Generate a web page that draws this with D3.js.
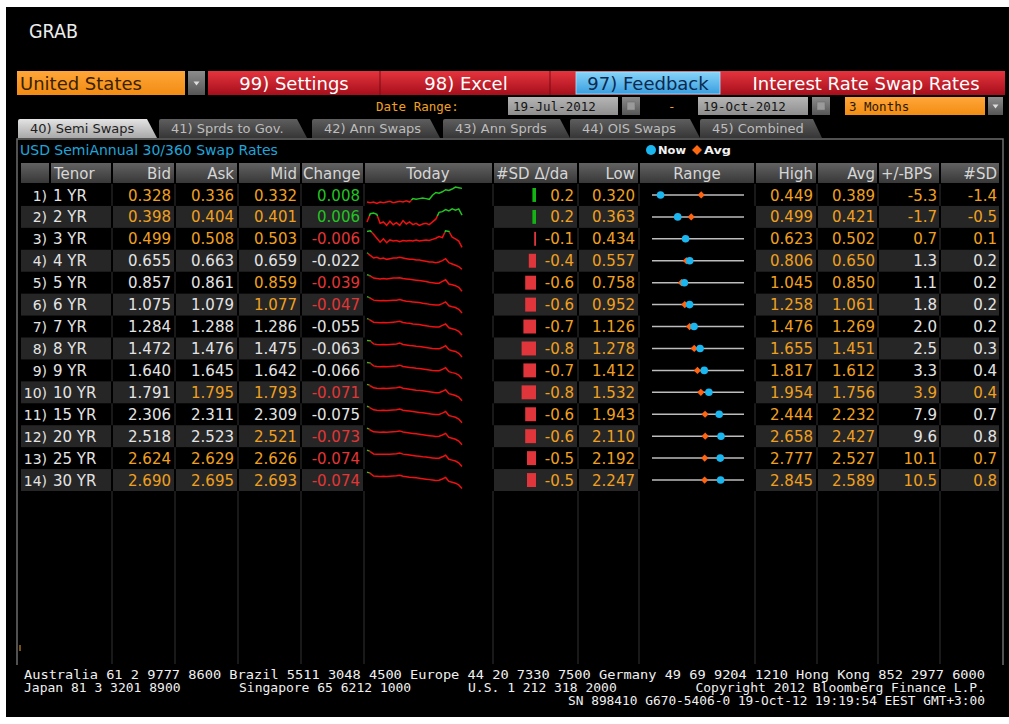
<!DOCTYPE html>
<html>
<head>
<meta charset="utf-8">
<script src="https://cdn.jsdelivr.net/npm/d3@7"></script>
<style>
  body { margin: 0; background: #fff; }
  svg { display: block; }
  text { font-family: "DejaVu Sans", sans-serif; }
  .mono { font-family: "DejaVu Sans Mono", monospace; }
</style>
</head>
<body>
<div id="screen"></div>
<script>
// ---- table values ----
var tenors = ["1 YR","2 YR","3 YR","4 YR","5 YR","6 YR","7 YR","8 YR","9 YR","10 YR","15 YR","20 YR","25 YR","30 YR"];
var bid    = [0.328,0.398,0.499,0.655,0.857,1.075,1.284,1.472,1.640,1.791,2.306,2.518,2.624,2.690];
var ask    = [0.336,0.404,0.508,0.663,0.861,1.079,1.288,1.476,1.645,1.795,2.311,2.523,2.629,2.695];
var mid    = [0.332,0.401,0.503,0.659,0.859,1.077,1.286,1.475,1.642,1.793,2.309,2.521,2.626,2.693];
var change = [0.008,0.006,-0.006,-0.022,-0.039,-0.047,-0.055,-0.063,-0.066,-0.071,-0.075,-0.073,-0.074,-0.074];
var sdPerDay = [0.2,0.2,-0.1,-0.4,-0.6,-0.6,-0.7,-0.8,-0.7,-0.8,-0.6,-0.6,-0.5,-0.5];
var low    = [0.320,0.363,0.434,0.557,0.758,0.952,1.126,1.278,1.412,1.532,1.943,2.110,2.192,2.247];
var high   = [0.449,0.499,0.623,0.806,1.045,1.258,1.476,1.655,1.817,1.954,2.444,2.658,2.777,2.845];
var avg    = [0.389,0.421,0.502,0.650,0.850,1.061,1.269,1.451,1.612,1.756,2.232,2.427,2.527,2.589];
var bps    = [-5.3,-1.7,0.7,1.3,1.1,1.8,2.0,2.5,3.3,3.9,7.9,9.6,10.1,10.5];
var sdev   = [-1.4,-0.5,0.1,0.2,0.2,0.2,0.2,0.3,0.4,0.4,0.7,0.8,0.7,0.8];

// which cells are flagged (o) or plain (w): bid ask mid chg sd/da low high avg bps sd
var flags = ["oooooooooo","oooooooooo","oooooooooo","wwwwooooww","wwooooooww","wwooooooww","wwwwooooww",
             "wwwwooooww","wwwwooooww","wooooooooo","wwwwooooww","wwooooooww","oooooooooo","oooooooooo"];

// intraday moves (bp vs previous close) for the "Today" sparklines
var today = [
  [-0.2,-0.25,-0.2,-0.3,-0.2,-0.25,-0.2,-0.15,-0.25,-0.2,-0.15,-0.2,-0.1,-0.2,0.05,0.0,0.05,0.1,0.05,0.0,0.3,0.5,0.45,0.55,0.7,0.65,0.75,0.9,0.85,0.8],
  [-1.0,0.2,0.3,0.1,-1.2,-1.0,-1.5,-0.9,-1.4,-1.1,-1.5,-0.8,-1.3,-1.0,-1.4,-1.2,-1.5,-1.3,-1.2,-1.4,-1.0,-0.6,0.4,0.5,0.8,0.6,0.9,0.7,0.9,0.0],
  [0,0.1,-0.5,-1.2,-1.9,-1.3,-2.0,-1.5,-1.7,-1.6,-1.8,-1.6,-1.7,-1.6,-1.7,-1.5,-1.7,-1.6,-1.5,-1.6,-1.4,-1.2,-0.9,-1.1,0.1,0.0,-1.0,-1.3,-1.7,-2.8],
  [0,-0.4,-0.8,-0.7,-0.9,-0.8,-1.0,-0.9,-0.8,-0.8,-0.7,-0.8,-0.9,-1.0,-1.0,-1.1,-1.1,-1.2,-1.3,-1.4,-1.4,-1.5,-1.4,-1.2,-0.9,-1.5,-1.7,-1.9,-2.1,-2.5],
  [0,-0.3,-0.8,-0.9,-1.0,-0.9,-1.0,-0.9,-0.8,-0.8,-0.7,-0.9,-1.0,-1.1,-1.2,-1.3,-1.4,-1.5,-1.6,-1.8,-1.9,-2.0,-2.0,-1.6,-1.2,-2.2,-2.4,-2.6,-3.0,-3.9],
  [0,-0.4,-1.0,-1.1,-1.2,-1.1,-1.2,-1.1,-1.0,-1.0,-0.8,-1.1,-1.3,-1.4,-1.5,-1.6,-1.7,-1.9,-2.0,-2.2,-2.3,-2.4,-2.4,-2.0,-1.5,-2.6,-2.9,-3.1,-3.6,-4.7],
  [0,-0.5,-1.2,-1.3,-1.4,-1.3,-1.4,-1.3,-1.2,-1.1,-0.9,-1.3,-1.5,-1.6,-1.8,-1.9,-2.0,-2.2,-2.4,-2.6,-2.7,-2.8,-2.8,-2.3,-1.8,-3.1,-3.4,-3.7,-4.3,-5.5],
  [0,-0.2,-1.3,-1.5,-1.6,-1.5,-1.6,-1.5,-1.4,-1.3,-1.0,-1.5,-1.7,-1.9,-2.0,-2.2,-2.3,-2.5,-2.7,-2.9,-3.1,-3.2,-3.2,-2.7,-2.0,-3.5,-3.9,-4.2,-4.9,-6.3],
  [0,-0.3,-1.4,-1.6,-1.7,-1.6,-1.7,-1.6,-1.5,-1.4,-1.1,-1.6,-1.8,-2.0,-2.1,-2.3,-2.4,-2.6,-2.8,-3.0,-3.2,-3.3,-3.3,-2.8,-2.1,-3.7,-4.1,-4.4,-5.1,-6.6],
  [0,-0.6,-1.5,-1.7,-1.8,-1.7,-1.8,-1.7,-1.6,-1.5,-1.2,-1.7,-1.9,-2.1,-2.3,-2.5,-2.6,-2.8,-3.0,-3.2,-3.4,-3.6,-3.6,-3.0,-2.3,-4.0,-4.4,-4.8,-5.5,-7.1],
  [0,-0.7,-1.6,-1.8,-1.9,-1.8,-1.9,-1.8,-1.7,-1.6,-1.3,-1.8,-2.0,-2.2,-2.4,-2.6,-2.8,-3.0,-3.2,-3.4,-3.6,-3.8,-3.7,-3.1,-2.4,-4.2,-4.6,-5.0,-5.8,-7.5],
  [0,-0.8,-1.6,-1.7,-1.8,-1.7,-1.8,-1.7,-1.6,-1.5,-1.2,-1.7,-1.9,-2.1,-2.3,-2.5,-2.7,-2.9,-3.1,-3.3,-3.5,-3.7,-3.6,-3.0,-2.3,-4.1,-4.5,-4.9,-5.7,-7.3],
  [0,-0.7,-1.7,-1.8,-1.9,-1.8,-1.9,-1.8,-1.7,-1.6,-1.3,-1.8,-2.0,-2.2,-2.4,-2.6,-2.8,-3.0,-3.1,-3.3,-3.5,-3.7,-3.6,-3.0,-2.3,-4.1,-4.5,-4.9,-5.7,-7.4],
  [0,-0.6,-1.8,-1.9,-2.0,-1.9,-2.0,-1.9,-1.8,-1.7,-1.4,-1.9,-2.1,-2.3,-2.4,-2.6,-2.8,-3.0,-3.2,-3.4,-3.6,-3.8,-3.7,-3.1,-2.4,-4.2,-4.6,-5.0,-5.8,-7.4]
];

// ---- labels ----
var headers = ["Tenor","Bid","Ask","Mid","Change","Today","#SD \u0394/da","Low","Range","High","Avg","+/-BPS","#SD"];
var tabs = ["40) Semi Swaps","41) Sprds to Gov.","42) Ann Swaps","43) Ann Sprds","44) OIS Swaps","45) Combined"];
var footer1 = "Australia 61 2 9777 8600 Brazil 5511 3048 4500 Europe 44 20 7330 7500 Germany 49 69 9204 1210 Hong Kong 852 2977 6000";
var footer2 = ["Japan 81 3 3201 8900","Singapore 65 6212 1000","U.S. 1 212 318 2000","Copyright 2012 Bloomberg Finance L.P."];
var footer3 = "SN 898410 G670-5406-0 19-Oct-12 19:19:54 EEST GMT+3:00";

var ORANGE = "#f0a020", WHITE = "#e4e4e4", RED = "#e03636", GREEN = "#22c422";

var svg = d3.select("#screen").append("svg").attr("width", 1009).attr("height", 724);
var defs = svg.append("defs");

function grad(id, top, bottom) {
    var g = defs.append("linearGradient").attr("id", id)
        .attr("x1", 0).attr("y1", 0).attr("x2", 0).attr("y2", 1);
    g.append("stop").attr("offset", "0%").attr("stop-color", top);
    g.append("stop").attr("offset", "100%").attr("stop-color", bottom);
}
grad("gRed", "#e5343e", "#a50f1b");
grad("gBlue", "#86d4f7", "#3a9ee0");
grad("gOrange", "#ffa63a", "#f28c12");
grad("gGreyBox", "#b6b6b6", "#8e8e8e");
grad("gBtn", "#8c8c8c", "#565656");
grad("gHdr", "#626262", "#383838");
grad("gTabOn", "#e4e4e4", "#a8a8a8");
grad("gTabOff", "#5e5e5e", "#363636");

// screen background
svg.append("rect").attr("x", 6).attr("y", 7).attr("width", 1003).attr("height", 710).attr("fill", "#000");

svg.append("text").attr("x", 29).attr("y", 38).attr("fill", "#ececec")
    .attr("font-size", 20).attr("textLength", 49).attr("lengthAdjust", "spacingAndGlyphs")
    .text("GRAB");

// ---- top command bar ----
function dropButton(x, y, w, h) {
    svg.append("rect").attr("x", x).attr("y", y).attr("width", w).attr("height", h).attr("fill", "url(#gBtn)");
    var cx = x + w / 2, cy = y + h / 2;
    svg.append("path").attr("d", "M" + (cx - 3) + "," + (cy - 1.5) + "h6l-3,4z").attr("fill", "#ddd");
}
function calButton(x, y, w, h) {
    svg.append("rect").attr("x", x).attr("y", y).attr("width", w).attr("height", h).attr("fill", "url(#gBtn)");
    svg.append("rect").attr("x", x + 5).attr("y", y + 5).attr("width", w - 10).attr("height", h - 10)
        .attr("fill", "#9a9a9a").attr("stroke", "#6a6a6a").attr("stroke-width", 0.5);
}

svg.append("rect").attr("x", 17).attr("y", 71).attr("width", 168).attr("height", 24).attr("fill", "url(#gOrange)");
svg.append("text").attr("x", 20).attr("y", 90).attr("font-size", 18).attr("fill", "#3a2200").text("United States");
dropButton(188, 71, 17, 24);

svg.append("rect").attr("x", 208).attr("y", 71).attr("width", 797).attr("height", 24).attr("fill", "url(#gRed)");
[380, 550].forEach(function(x) {
    svg.append("line").attr("x1", x).attr("x2", x).attr("y1", 71).attr("y2", 95).attr("stroke", "#7a0a12");
});
svg.append("rect").attr("x", 576).attr("y", 72).attr("width", 144).attr("height", 22)
    .attr("fill", "url(#gBlue)").attr("stroke", "#a8e4ff").attr("stroke-width", 0.8);

var barText = [
    { t: "99) Settings", x: 294, c: "#fff" },
    { t: "98) Excel", x: 466, c: "#fff" },
    { t: "97) Feedback", x: 648, c: "#0c2a50" },
    { t: "Interest Rate Swap Rates", x: 866, c: "#fff" }
];
svg.selectAll(".bar").data(barText).enter().append("text")
    .attr("x", d => d.x).attr("y", 90).attr("text-anchor", "middle")
    .attr("font-size", 18).attr("fill", d => d.c).text(d => d.t);

// ---- date range row ----
svg.append("text").attr("class", "mono").attr("x", 376).attr("y", 111).attr("font-size", 12.5)
    .attr("fill", ORANGE).text("Date Range:");
svg.append("rect").attr("x", 508).attr("y", 97).attr("width", 110).attr("height", 18).attr("fill", "url(#gGreyBox)");
svg.append("text").attr("class", "mono").attr("x", 513).attr("y", 111).attr("font-size", 12.5)
    .attr("fill", "#141414").text("19-Jul-2012");
calButton(622, 97, 18, 18);
svg.append("text").attr("class", "mono").attr("x", 668).attr("y", 111).attr("font-size", 12.5)
    .attr("fill", ORANGE).text("-");
svg.append("rect").attr("x", 698).attr("y", 97).attr("width", 110).attr("height", 18).attr("fill", "url(#gGreyBox)");
svg.append("text").attr("class", "mono").attr("x", 703).attr("y", 111).attr("font-size", 12.5)
    .attr("fill", "#141414").text("19-Oct-2012");
calButton(812, 97, 18, 18);
svg.append("rect").attr("x", 845).attr("y", 97).attr("width", 140).attr("height", 18).attr("fill", "url(#gOrange)");
svg.append("text").attr("class", "mono").attr("x", 849).attr("y", 111).attr("font-size", 12.5)
    .attr("fill", "#2a1800").text("3 Months");
dropButton(988, 97, 15, 18);

// ---- tabs ----
var tabLeft = [18, 159, 312, 443, 570, 700];
var tabTopRight = [147, 297, 430, 560, 690, 813];
var tabBotRight = [157, 307, 440, 570, 700, 822];
var tabG = svg.selectAll(".tab").data(tabs).enter().append("g");
tabG.append("path")
    .attr("d", (d, i) => "M" + tabLeft[i] + ",138V121q0,-2 2,-2H" + tabTopRight[i] + "L" + tabBotRight[i] + ",138Z")
    .attr("fill", (d, i) => i === 0 ? "url(#gTabOn)" : "url(#gTabOff)");
tabG.append("text")
    .attr("x", (d, i) => tabLeft[i] + 12).attr("y", 133).attr("font-size", 13)
    .attr("fill", (d, i) => i === 0 ? "#1e1e1e" : "#bdbdbd").text(d => d);

// ---- table frame and caption ----
svg.append("path").attr("d", "M17,665V139H1003V665").attr("fill", "none").attr("stroke", "#6c6c6c").attr("stroke-width", 1.5);
svg.append("text").attr("x", 20).attr("y", 155).attr("font-size", 14).attr("fill", "#1ea6dc")
    .text("USD SemiAnnual 30/360 Swap Rates");
svg.append("circle").attr("cx", 651).attr("cy", 150).attr("r", 5).attr("fill", "#19b6ef");
svg.append("text").attr("x", 658).attr("y", 154).attr("font-size", 11).attr("font-weight", "bold")
    .attr("fill", "#f2f2f2").attr("textLength", 28).attr("lengthAdjust", "spacingAndGlyphs").text("Now");
svg.append("path").attr("transform", "translate(697,150) rotate(45)")
    .attr("d", d3.symbol(d3.symbolSquare, 50)()).attr("fill", "#ff6a10");
svg.append("text").attr("x", 704).attr("y", 154).attr("font-size", 11).attr("font-weight", "bold")
    .attr("fill", "#f2f2f2").attr("textLength", 27).attr("lengthAdjust", "spacingAndGlyphs").text("Avg");

// ---- header row ----
var hdrEdges = [20, 50, 112, 175, 238, 301, 364, 493, 578, 639, 755, 817, 878, 940, 1000];
for (var h = 0; h < hdrEdges.length - 1; h++) {
    svg.append("rect").attr("x", hdrEdges[h] + 1).attr("y", 163)
        .attr("width", hdrEdges[h + 1] - hdrEdges[h] - 2).attr("height", 20).attr("fill", "url(#gHdr)");
}
var hdrPos = [
    { x: 54, a: "start" }, { x: 171, a: "end" }, { x: 234, a: "end" }, { x: 297, a: "end" },
    { x: 303, a: "start" }, { x: 428, a: "middle" }, { x: 496, a: "start" }, { x: 635, a: "end" },
    { x: 697, a: "middle" }, { x: 813, a: "end" }, { x: 875, a: "end" }, { x: 881, a: "start" }, { x: 997, a: "end" }
];
svg.selectAll(".hdr").data(headers).enter().append("text")
    .attr("x", (d, i) => hdrPos[i].x).attr("y", 179).attr("text-anchor", (d, i) => hdrPos[i].a)
    .attr("font-size", 15).attr("fill", "#d6d6d6").text(d => d);

// ---- body rows ----
var colEdges = [20, 112, 175, 238, 301, 364, 493, 578, 639, 755, 817, 878, 940, 1000];
var rowY = d3.scaleLinear().domain([0, tenors.length]).range([184, 491]);

svg.selectAll(".vsep").data(colEdges.slice(1, -1)).enter().append("line")
    .attr("x1", d => d).attr("x2", d => d).attr("y1", 184).attr("y2", 664)
    .attr("stroke", "#333").attr("stroke-width", 1);

tenors.forEach(function(t, i) {
    if (i % 2 === 1) {
        var top = rowY(i), hgt = rowY(i + 1) - rowY(i);
        svg.append("rect").attr("x", 20).attr("y", top).attr("width", 980).attr("height", hgt).attr("fill", "#000");
        for (var c = 0; c < colEdges.length - 1; c++) {
            if (c === 5 || c === 8) continue;   // Today and Range stay black
            svg.append("rect").attr("x", colEdges[c] + 1).attr("y", top)
                .attr("width", colEdges[c + 1] - colEdges[c] - 2).attr("height", hgt).attr("fill", "#262626");
        }
    }
});

var fix3 = v => v.toFixed(3), fix1 = v => v.toFixed(1);
var cells = [
    { vals: bid, x: 171, f: fix3 }, { vals: ask, x: 234, f: fix3 }, { vals: mid, x: 297, f: fix3 },
    { vals: change, x: 360, f: fix3 }, { vals: sdPerDay, x: 574, f: fix1 }, { vals: low, x: 635, f: fix3 },
    { vals: high, x: 813, f: fix3 }, { vals: avg, x: 875, f: fix3 }, { vals: bps, x: 937, f: fix1 },
    { vals: sdev, x: 997, f: fix1 }
];

function cellColor(c, i) {
    if (flags[i][c] === "w") return WHITE;
    if (c === 3) return change[i] > 0 ? GREEN : RED;
    return ORANGE;
}

var barW = d3.scaleLinear().domain([0, 1]).range([0, 18]);
var sparkX = d3.scaleLinear().domain([0, 29]).range([367, 462]);

tenors.forEach(function(t, i) {
    var top = rowY(i), bot = rowY(i + 1), base = top + 16.5, cy = (top + bot) / 2;
    var g = svg.append("g");

    g.append("text").attr("x", 47).attr("y", base).attr("text-anchor", "end").attr("font-size", 14)
        .attr("fill", WHITE).text((i + 1) + ")");
    g.append("text").attr("x", 53).attr("y", base).attr("font-size", 15).attr("fill", WHITE).text(t);

    cells.forEach(function(col, c) {
        g.append("text").attr("x", col.x).attr("y", base).attr("text-anchor", "end")
            .attr("font-size", 15).attr("fill", cellColor(c, i)).text(col.f(col.vals[i]));
    });

    // #SD per day bar
    var bw = Math.max(1, barW(Math.abs(sdPerDay[i])));
    g.append("rect").attr("x", 536 - bw).attr("y", top + 4).attr("width", bw).attr("height", bot - top - 8)
        .attr("fill", sdPerDay[i] > 0 ? "#14b414" : "#e0353a");

    // today sparkline, green above previous close, red below
    var ys = d3.scaleLinear().domain(d3.extent(today[i])).range([bot - 2.5, top + 3]);
    var y0 = ys(0);
    defs.append("clipPath").attr("id", "up" + i).append("rect")
        .attr("x", 364).attr("y", top).attr("width", 129).attr("height", y0 + 1 - top);
    defs.append("clipPath").attr("id", "dn" + i).append("rect")
        .attr("x", 364).attr("y", y0 + 1).attr("width", 129).attr("height", bot - y0);
    var line = d3.line().x((d, k) => sparkX(k)).y(d => ys(d));
    g.append("path").attr("d", line(today[i])).attr("fill", "none").attr("stroke", GREEN)
        .attr("stroke-width", 1.5).attr("clip-path", "url(#up" + i + ")");
    g.append("path").attr("d", line(today[i])).attr("fill", "none").attr("stroke", "#f01010")
        .attr("stroke-width", 1.5).attr("clip-path", "url(#dn" + i + ")");

    // range: low .. high with avg diamond and current mid dot
    var rx = d3.scaleLinear().domain([low[i], high[i]]).range([652, 744]);
    g.append("line").attr("x1", rx(low[i])).attr("x2", rx(high[i])).attr("y1", cy).attr("y2", cy)
        .attr("stroke", "#bdbdbd").attr("stroke-width", 1.5);
    g.append("path").attr("transform", "translate(" + rx(avg[i]) + "," + cy + ") rotate(45)")
        .attr("d", d3.symbol(d3.symbolSquare, 26)()).attr("fill", "#ff6412");
    g.append("circle").attr("cx", rx(mid[i])).attr("cy", cy).attr("r", 3.8).attr("fill", "#19b6ef");
});

svg.append("line").attr("x1", 20).attr("x2", 20).attr("y1", 645).attr("y2", 651).attr("stroke", ORANGE);

// ---- footer ----
svg.append("text").attr("class", "mono").attr("x", 24).attr("y", 679).attr("font-size", 13)
    .attr("fill", "#f0f0f0").attr("textLength", 961).attr("lengthAdjust", "spacingAndGlyphs").text(footer1);
var f2x = [24, 239, 468, 985];
svg.selectAll(".f2").data(footer2).enter().append("text").attr("class", "mono")
    .attr("x", (d, i) => f2x[i]).attr("y", 692).attr("font-size", 13)
    .attr("text-anchor", (d, i) => i === 3 ? "end" : "start").attr("fill", "#f0f0f0").text(d => d);
svg.append("text").attr("class", "mono").attr("x", 568).attr("y", 705).attr("font-size", 13)
    .attr("fill", "#f0f0f0").attr("textLength", 417).attr("lengthAdjust", "spacingAndGlyphs").text(footer3);
</script>
</body>
</html>
